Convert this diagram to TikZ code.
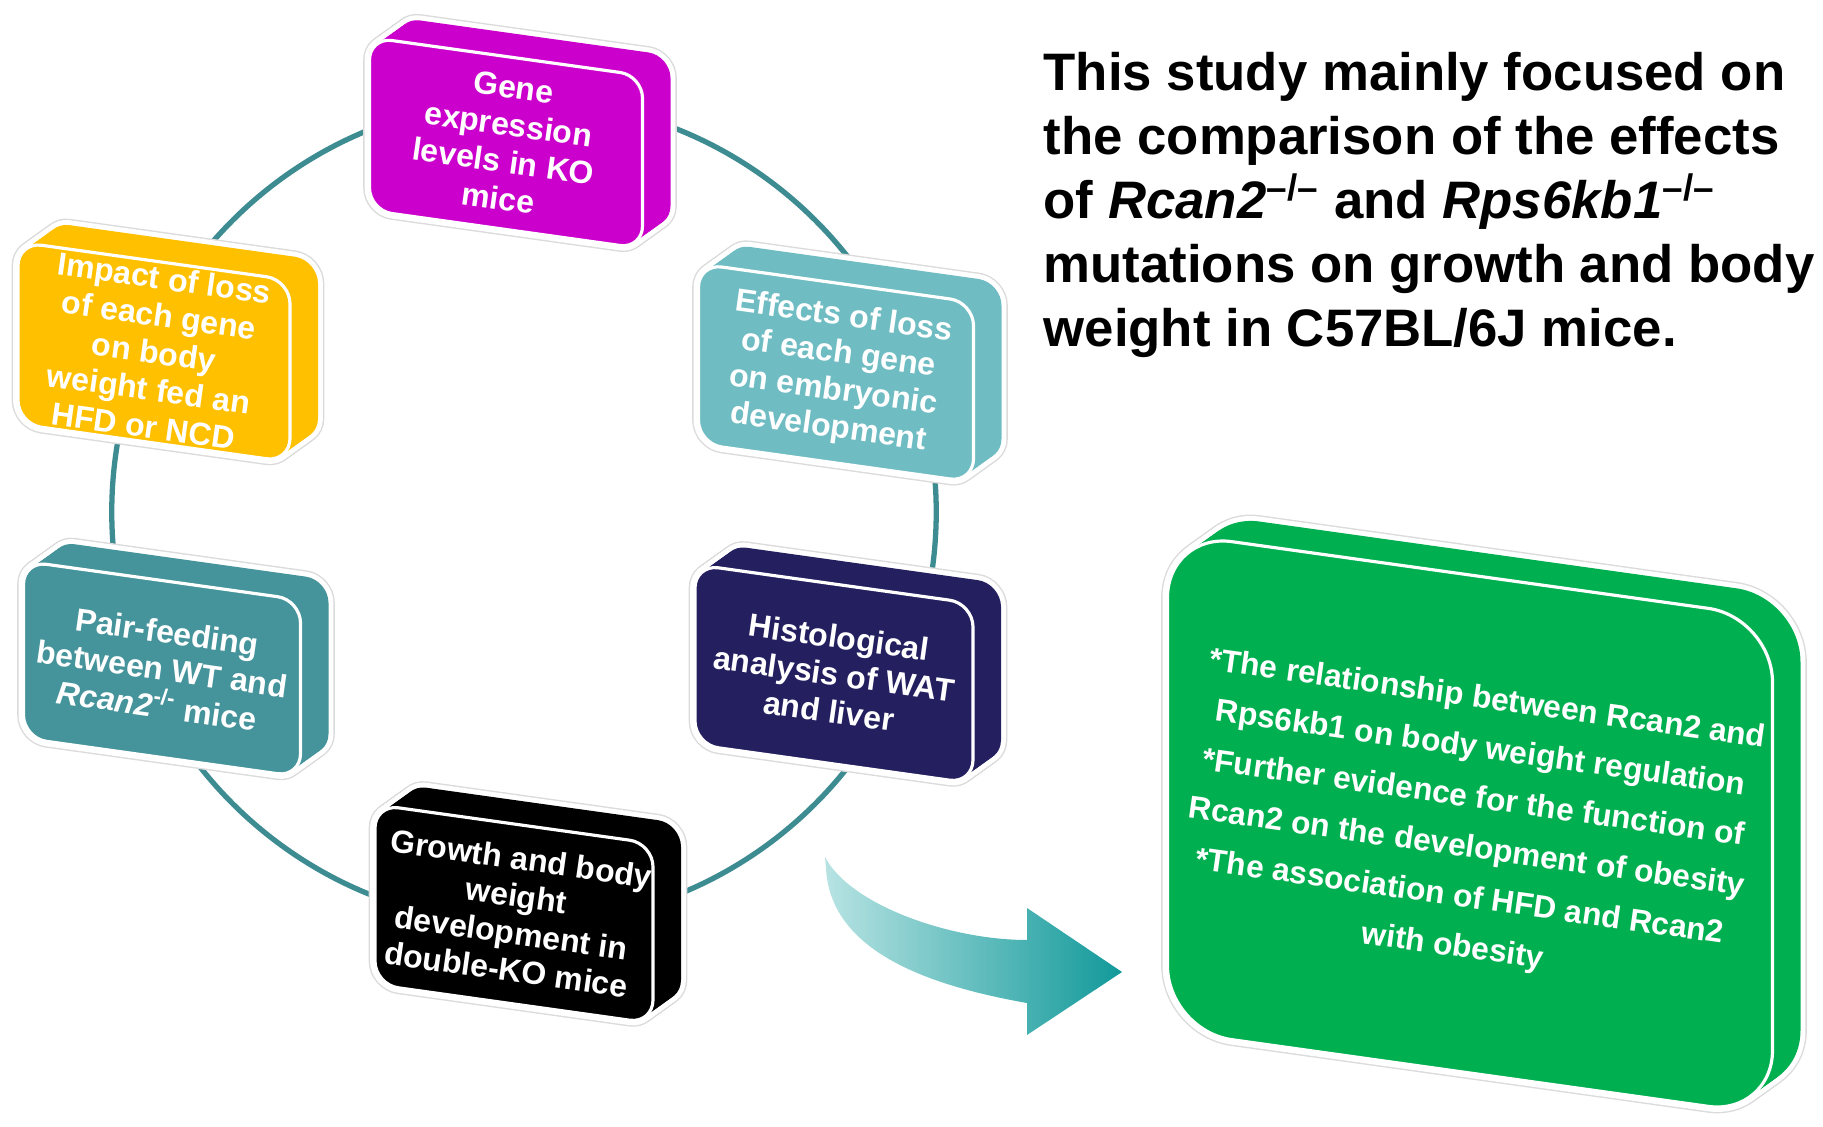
\documentclass[tikz,border=0pt]{standalone}
\usepackage{fontspec}
\setmainfont{Liberation Sans}
\usetikzlibrary{calc}
\definecolor{RingClr}{HTML}{3D8C92}
\definecolor{GeneClr}{HTML}{CC00CC}
\definecolor{ImpactClr}{HTML}{FFC000}
\definecolor{EmbryoClr}{HTML}{6FBCC3}
\definecolor{PairClr}{HTML}{45939B}
\definecolor{HistoClr}{HTML}{242060}
\definecolor{GrowthClr}{HTML}{000000}
\definecolor{ResultClr}{HTML}{00B050}
\definecolor{ArrowLClr}{HTML}{B8E3E3}
\definecolor{ArrowRClr}{HTML}{12999A}

\tikzset{
  boxtext/.style={text=white,font=\bfseries\fontsize{9.1}{10.6}\selectfont,align=center,rotate=-8,inner sep=0pt},
  resulttext/.style={font=\bfseries\fontsize{9}{14.2}\selectfont},
  titletext/.style={font=\bfseries\fontsize{15}{18.2}\selectfont,align=left,inner sep=0pt}
}

% slab: name, x, y, width, height, colour, text
\newcommand{\slab}[7]{%
  \begin{scope}[shift={(#2,#3)},yslant=-0.14]
    \pgfmathsetmacro\rad{0.037*#5}
    \foreach \t in {0,...,10}
      \draw[black!14,line width=3.6pt,rounded corners=\rad pt,shift={({2.8*\t},{-2.4*\t})}] ({-#4/2},{-#5/2}) rectangle ({#4/2},{#5/2});
    \foreach \t in {0,...,10}
      \draw[white,line width=2.8pt,rounded corners=\rad pt,shift={({2.8*\t},{-2.4*\t})}] ({-#4/2},{-#5/2}) rectangle ({#4/2},{#5/2});
    \foreach \t in {0,...,10}
      \fill[#6,rounded corners=\rad pt,shift={({2.8*\t},{-2.4*\t})}] ({-#4/2},{-#5/2}) rectangle ({#4/2},{#5/2});
    \draw[white,line width=0.9pt,rounded corners=\rad pt] ({-#4/2},{-#5/2}) rectangle ({#4/2},{#5/2});
    \node[boxtext,#1text/.try] (#1) at (0,0) {#7};
  \end{scope}}

\begin{document}
\begin{tikzpicture}[x=0.01cm,y=-0.01cm]
\fill[white] (0,0) rectangle (1823,1127);
\path[use as bounding box] (0,0) rectangle (1823,1127);

\draw[RingClr,line width=1.5pt] (524,512) circle[radius=4.12cm];

\slab{gene}{506}{143}{273}{173}{GeneClr}{Gene\\expression\\levels in KO\\mice}
\slab{impact}{154}{352}{272}{182}{ImpactClr}{Impact of loss\\of each gene\\on body\\weight fed an\\HFD or NCD}
\slab{embryo}{836}{373}{275}{180}{EmbryoClr}{Effects of loss\\of each gene\\on embryonic\\development}
\slab{pair}{162}{669}{277}{177}{PairClr}{Pair-feeding\\between WT and\\\textit{Rcan2}\textsuperscript{-/-} mice}
\slab{histo}{834}{674}{278}{180}{HistoClr}{Histological\\analysis of WAT\\and liver}
\slab{growth}{514}{914}{278}{180}{GrowthClr}{Growth and body\\weight\\development in\\double-KO mice}
\slab{result}{1470}{824}{605}{498}{ResultClr}{*The relationship between Rcan2 and\\Rps6kb1 on body weight regulation\\*Further evidence for the function of\\Rcan2 on the development of obesity\\*The association of HFD and Rcan2\\with obesity}

\shade[left color=ArrowLClr,right color=ArrowRClr] (825,857) .. controls (850,905) and (950,940) .. (1027,940) -- (1027,908) -- (1122,972) -- (1027,1035) -- (1027,1003) .. controls (925,985) and (830,950) .. (826,868) -- cycle;

\node[titletext,anchor=north west] (title) at (1043,52) {This study mainly focused on\\the comparison of the effects\\of \textit{Rcan2}\textsuperscript{–/–} and \textit{Rps6kb1}\textsuperscript{–/–}\\mutations on growth and body\\weight in C57BL/6J mice.};
\end{tikzpicture}
\end{document}
